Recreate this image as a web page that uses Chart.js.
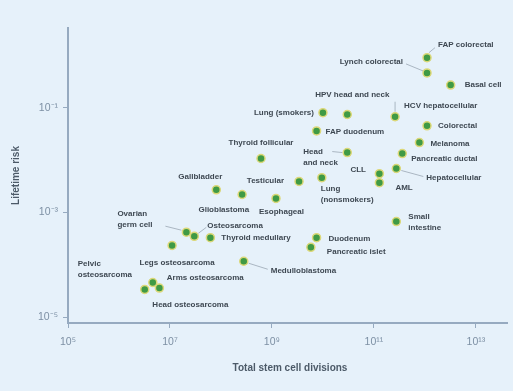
<!DOCTYPE html>
<html>
<head>
<meta charset="utf-8">
<script src="https://cdn.jsdelivr.net/npm/chart.js@4"></script>
<style>
  html, body { margin: 0; padding: 0; background: #e6f1fa; }
  #wrap { width: 513px; height: 391px; }
</style>
</head>
<body>
<div id="wrap"><canvas id="riskChart" width="513" height="391"></canvas></div>
<script>
// cancer types, total stem cell divisions, lifetime risk
const cancerTypes = [
  'FAP colorectal', 'Lynch colorectal', 'Basal cell', 'Lung (smokers)', 'HPV head and neck',
  'HCV hepatocellular', 'FAP duodenum', 'Colorectal', 'Melanoma', 'Head\nand neck',
  'Pancreatic ductal', 'Hepatocellular', 'CLL', 'AML', 'Thyroid follicular',
  'Testicular', 'Lung\n(nonsmokers)', 'Gallbladder', 'Glioblastoma', 'Esophageal',
  'Ovarian\ngerm cell', 'Osteosarcoma', 'Thyroid medullary', 'Legs osteosarcoma', 'Duodenum',
  'Pancreatic islet', 'Medulloblastoma', 'Small\nintestine', 'Pelvic\nosteosarcoma', 'Arms osteosarcoma',
  'Head osteosarcoma'
];
const stemCellDivisions = [
  1.1e12, 1.1e12, 3.2e12, 1.0e10, 3.0e10,
  2.6e11, 7.5e9, 1.1e12, 7.8e11, 3.0e10,
  3.6e11, 2.75e11, 1.28e11, 1.28e11, 6.1e8,
  3.4e9, 9.5e9, 8.1e7, 2.6e8, 1.2e9,
  2.1e7, 3.0e7, 6.2e7, 1.1e7, 7.5e9,
  5.8e9, 2.8e8, 2.75e11, 3.2e6, 4.6e6,
  6.2e6
];
const lifetimeRisk = [
  0.9, 0.46, 0.27, 0.080, 0.074,
  0.067, 0.036, 0.045, 0.0215, 0.0139,
  0.0133, 0.0069, 0.0055, 0.0037, 0.0107,
  0.0039, 0.0046, 0.0027, 0.0022, 0.00185,
  0.00042, 0.00035, 0.00033, 0.000235, 0.00033,
  0.000216, 0.000117, 0.00067, 3.4e-5, 4.6e-5,
  3.6e-5
];
const xTickExponents = [5, 7, 9, 11, 13];
const yTickExponents = [-1, -3, -5];

// where each label sits relative to its dot: dx, dy, align, optional leader line
const labelPlacements = [
  [11, -13, 'left', [2, -5, 8, -10]],
  [-24, -11, 'right', [-4, -2, -21, -9]],
  [14, 0, 'left'],
  [-9, 0, 'right'],
  [5, -20, 'center'],
  [9, -11, 'left', [0, -5, 0, -15]],
  [9, 1, 'left'],
  [11, 0, 'left'],
  [11, 1, 'left'],
  [-44, -1, 'left', [-15, -1, -5, 0]],
  [9, 5, 'left'],
  [30, 9, 'left', [5, 2, 27, 8]],
  [-29, -4, 'left'],
  [16, 5, 'left'],
  [0, -16, 'center'],
  [-15, -1, 'right'],
  [-1, 11, 'left'],
  [6, -13, 'right'],
  [7, 15, 'right'],
  [-17, 13, 'left'],
  [-69, -18, 'left', [-5, -2, -21, -6]],
  [13, -11, 'left', [4, -3, 12, -9]],
  [11, 0, 'left'],
  [5, 17, 'center'],
  [12, 1, 'left'],
  [16, 4, 'left'],
  [27, 10, 'left', [5, 2, 24, 8]],
  [12, -5, 'left'],
  [-67, -26, 'left'],
  [14, -5, 'left'],
  [31, 17, 'center']
];

const sup = { '-': '\u207B', '0': '\u2070', '1': '\u00B9', '2': '\u00B2', '3': '\u00B3', '4': '\u2074',
  '5': '\u2075', '6': '\u2076', '7': '\u2077', '8': '\u2078', '9': '\u2079' };
function powerLabel(exp) {
  return '10' + String(exp).split('').map(c => sup[c]).join('');
}

const axisColor = '#96aac0';
const tickColor = '#7d90a4';

const backgroundPlugin = {
  id: 'bg',
  beforeDraw(chart) {
    const ctx = chart.ctx;
    ctx.save();
    ctx.fillStyle = '#e6f1fa';
    ctx.fillRect(0, 0, chart.width, chart.height);
    ctx.restore();
  }
};

const labelPlugin = {
  id: 'pointLabels',
  afterDatasetsDraw(chart) {
    const ctx = chart.ctx;
    const points = chart.getDatasetMeta(0).data;
    ctx.save();
    // leader lines
    ctx.strokeStyle = '#9aa7b4';
    ctx.lineWidth = 0.8;
    points.forEach((pt, i) => {
      const leader = labelPlacements[i][3];
      if (!leader) return;
      ctx.beginPath();
      ctx.moveTo(pt.x + leader[0], pt.y + leader[1]);
      ctx.lineTo(pt.x + leader[2], pt.y + leader[3]);
      ctx.stroke();
    });
    // text
    ctx.font = 'bold 8px "Liberation Sans", Arial, sans-serif';
    ctx.fillStyle = '#3e4852';
    ctx.textBaseline = 'middle';
    points.forEach((pt, i) => {
      const [dx, dy, align] = labelPlacements[i];
      ctx.textAlign = align;
      cancerTypes[i].split('\n').forEach((line, k) => {
        ctx.fillText(line, pt.x + dx, pt.y + dy + k * 11);
      });
    });
    ctx.restore();
  }
};

const titlePlugin = {
  id: 'axisTitles',
  afterDraw(chart) {
    const ctx = chart.ctx;
    const area = chart.chartArea;
    ctx.save();
    ctx.font = 'bold 10px "Liberation Sans", Arial, sans-serif';
    ctx.fillStyle = '#4c5a68';
    ctx.textAlign = 'center';
    ctx.textBaseline = 'middle';
    ctx.fillText('Total stem cell divisions', 290, 368);
    ctx.translate(16, (area.top + area.bottom) / 2);
    ctx.rotate(-Math.PI / 2);
    ctx.fillText('Lifetime risk', 0, 0);
    ctx.restore();
  }
};

new Chart(document.getElementById('riskChart'), {
  type: 'scatter',
  data: {
    datasets: [{
      label: 'Cancer types',
      data: stemCellDivisions.map((v, i) => ({ x: v, y: lifetimeRisk[i] })),
      backgroundColor: '#3f9a45',
      borderColor: '#dcd878',
      borderWidth: 1.5,
      pointRadius: 4,
      pointHoverRadius: 4
    }]
  },
  options: {
    responsive: false,
    animation: false,
    layout: { padding: { left: 0, right: 3, top: 28, bottom: 0 } },
    plugins: {
      legend: { display: false },
      tooltip: { enabled: false }
    },
    scales: {
      x: {
        type: 'logarithmic',
        min: 1e5,
        max: Math.pow(10, 13.62),
        afterBuildTicks(scale) {
          scale.ticks = xTickExponents.map(e => ({ value: Math.pow(10, e) }));
        },
        afterFit(scale) { scale.height = 68; },
        ticks: {
          autoSkip: false,
          maxRotation: 0,
          color: tickColor,
          font: { size: 10.5, family: '"Liberation Sans", Arial, sans-serif' },
          padding: 8,
          callback: v => powerLabel(Math.round(Math.log10(v)))
        },
        grid: { drawOnChartArea: false, drawTicks: true, tickLength: 5, color: axisColor },
        border: { color: axisColor, width: 2 }
      },
      y: {
        type: 'logarithmic',
        min: Math.pow(10, -5.11),
        max: Math.pow(10, 0.52),
        afterBuildTicks(scale) {
          scale.ticks = yTickExponents.map(e => ({ value: Math.pow(10, e) }));
        },
        afterFit(scale) { scale.width = 68; },
        ticks: {
          autoSkip: false,
          color: tickColor,
          font: { size: 10.5, family: '"Liberation Sans", Arial, sans-serif' },
          padding: 5,
          callback: v => powerLabel(Math.round(Math.log10(v)))
        },
        grid: { drawOnChartArea: false, drawTicks: true, tickLength: 5, color: axisColor },
        border: { color: axisColor, width: 2 }
      }
    }
  },
  plugins: [backgroundPlugin, labelPlugin, titlePlugin]
});
</script>
</body>
</html>
